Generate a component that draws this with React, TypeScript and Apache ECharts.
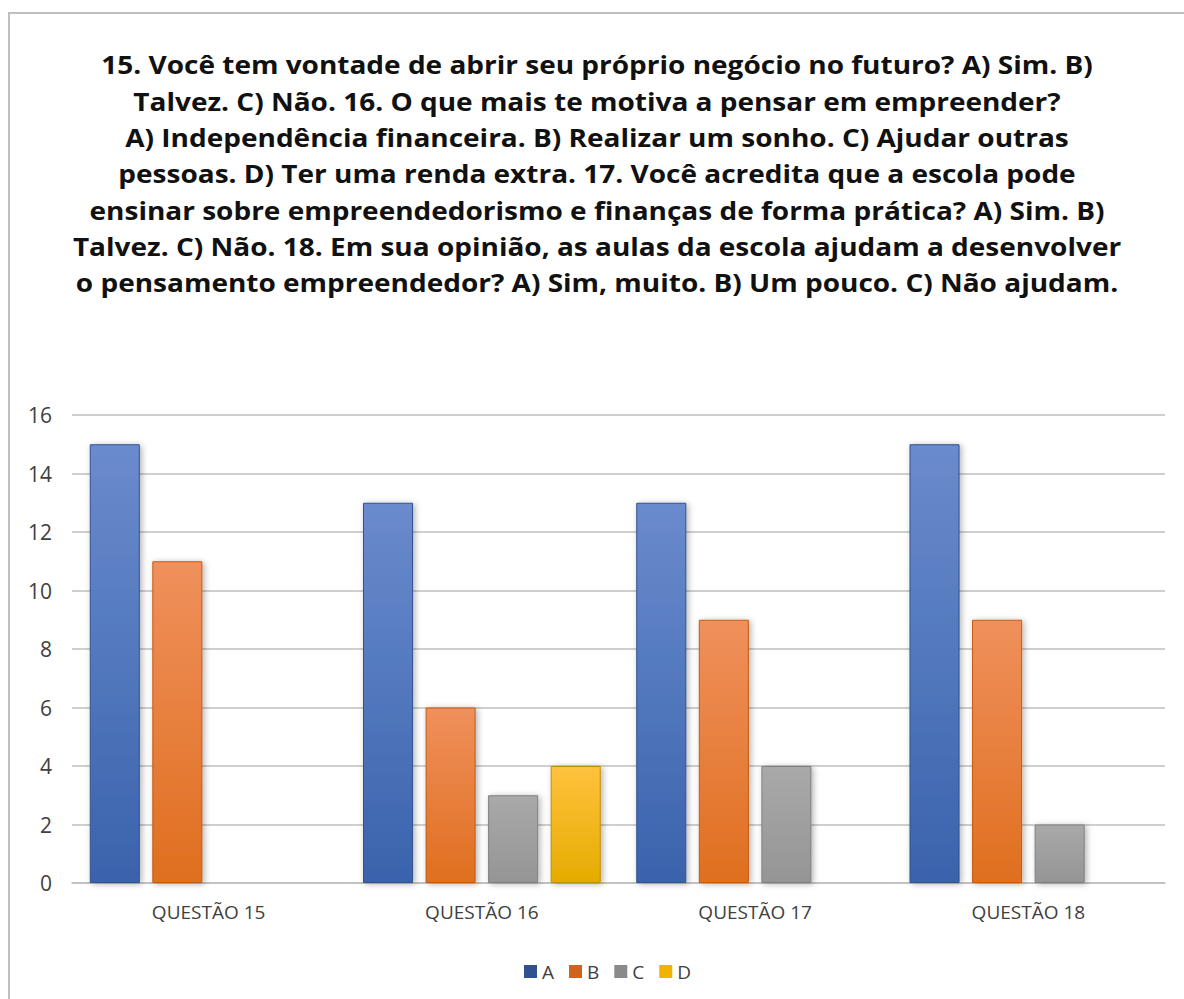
import React, { useEffect, useRef } from "react";
import * as echarts from "echarts";

const categories = ["QUESTÃO 15", "QUESTÃO 16", "QUESTÃO 17", "QUESTÃO 18"];
const seriesNames = ["A", "B", "C", "D"];
const valuesA = [15, 13, 13, 15];
const valuesB = [11, 6, 9, 9];
const valuesC = [0, 3, 4, 2];
const valuesD = [0, 4, 0, 0];
const titleLines = [
  "15. Você tem vontade de abrir seu próprio negócio no futuro? A) Sim. B)",
  "Talvez. C) Não. 16. O que mais te motiva a pensar em empreender?",
  "A) Independência financeira. B) Realizar um sonho. C) Ajudar outras",
  "pessoas. D) Ter uma renda extra. 17. Você acredita que a escola pode",
  "ensinar sobre empreendedorismo e finanças de forma prática? A) Sim. B)",
  "Talvez. C) Não. 18. Em sua opinião, as aulas da escola ajudam a desenvolver",
  "o pensamento empreendedor? A) Sim, muito. B) Um pouco. C) Não ajudam.",
];

const palette = [
  { top: "#6a8bcd", bottom: "#3a63ac", border: "#2f528f", legend: "#2f528f" },
  { top: "#f0905c", bottom: "#df6f1f", border: "#c55a11", legend: "#d0621a" },
  { top: "#a9a9a9", bottom: "#959595", border: "#7f7f7f", legend: "#8a8a8a" },
  { top: "#ffc23e", bottom: "#e5ac00", border: "#bf9000", legend: "#f0b400" },
];

export default function App() {
  const ref = useRef<HTMLDivElement>(null);
  useEffect(() => {
    if (!ref.current) return;
    const chart = echarts.init(ref.current, null, { renderer: "svg" });
    const data = [valuesA, valuesB, valuesC, valuesD];
    const titleGraphics = titleLines.map((t, i) => ({
      type: "text",
      x: 597,
      y: 65 + i * 36.3,
      scaleX: 1.12,
      style: {
        text: t,
        fontFamily: "Open Sans",
        fontWeight: "bold",
        fontSize: 25,
        fill: "#111111",
        textAlign: "center",
        textVerticalAlign: "middle",
      },
    }));
    chart.setOption({
      animation: false,
      backgroundColor: "#ffffff",
      graphic: [
        {
          type: "rect",
          shape: { x: 9, y: 13, width: 1200, height: 1000 },
          style: { fill: "none", stroke: "#bfbfbf", lineWidth: 2 },
          silent: true,
        },
        ...titleGraphics,
      ],
      legend: {
        data: seriesNames.map((n, i) => ({
          name: n,
          itemStyle: { color: palette[i].legend, borderWidth: 0 },
        })),
        top: 957,
        left: 519,
        icon: "rect",
        itemWidth: 13,
        itemHeight: 13,
        itemGap: 15,
        textStyle: { fontFamily: "Open Sans", fontSize: 19, color: "#404040" },
      },
      grid: { left: 72, right: 19, top: 415, bottom: 116 },
      xAxis: {
        type: "category",
        data: categories,
        axisTick: { show: false },
        axisLine: { lineStyle: { color: "#bfbfbf", width: 1.5 } },
        axisLabel: {
          fontFamily: "Open Sans",
          fontSize: 19,
          color: "#404040",
          margin: 19,
        },
      },
      yAxis: {
        type: "value",
        min: 0,
        max: 16,
        interval: 2,
        axisLine: { show: false },
        axisTick: { show: false },
        splitLine: { lineStyle: { color: "#bfbfbf", width: 1.5 } },
        axisLabel: {
          fontFamily: "Open Sans",
          fontSize: 21,
          color: "#404040",
          margin: 20,
        },
      },
      series: seriesNames.map((n, i) => ({
        name: n,
        type: "bar",
        data: data[i],
        barGap: "25%",
        barCategoryGap: "13%",
        itemStyle: {
          color: new echarts.graphic.LinearGradient(0, 0, 0, 1, [
            { offset: 0, color: palette[i].top },
            { offset: 1, color: palette[i].bottom },
          ]),
          borderColor: palette[i].border,
          borderWidth: 1,
          shadowBlur: 6,
          shadowColor: "rgba(0,0,0,0.3)",
          shadowOffsetX: 2,
          shadowOffsetY: 1,
        },
      })),
    });
    return () => chart.dispose();
  }, []);
  return (
    <div
      ref={ref}
      style={{ position: "absolute", left: 0, top: 0, width: 1184, height: 999 }}
    />
  );
}
